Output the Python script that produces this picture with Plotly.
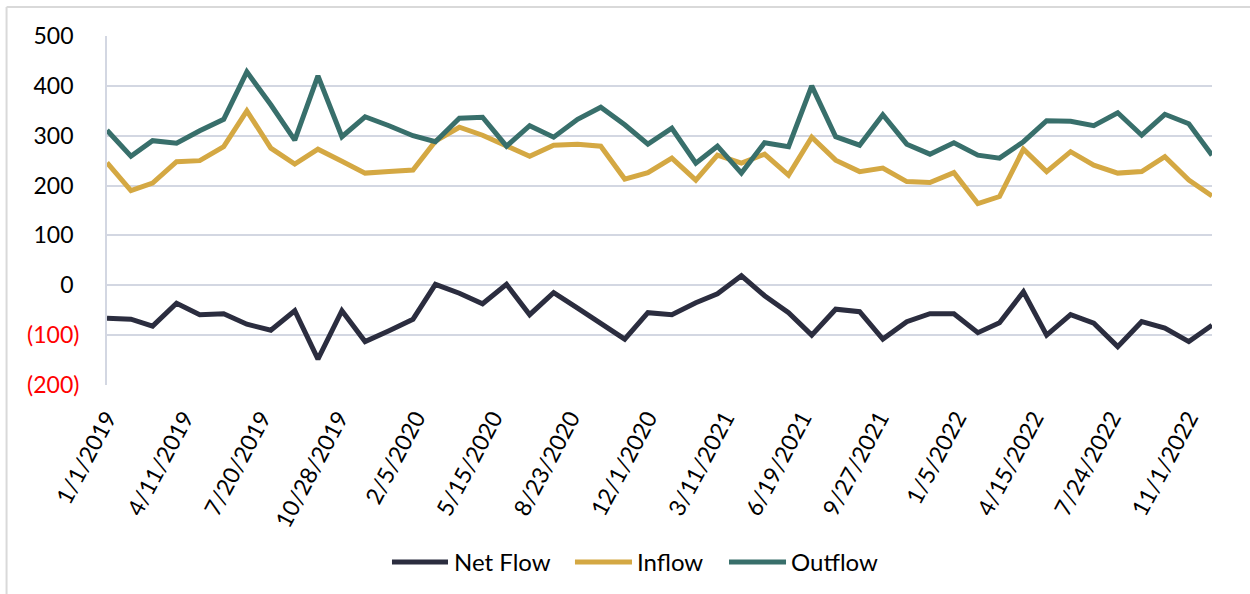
import pandas as pd
import plotly.graph_objects as go

months = pd.date_range("2019-01-01", periods=48, freq="MS")

net_flow = [-66, -68, -82, -36, -59, -57, -78, -90, -51, -148, -51, -113, -91, -68,
            2, -16, -37, 2, -59, -15, -46, -76, -108, -55, -59, -35, -17, 19, -21, -55, -100,
            -48, -53, -108, -73, -57, -57, -95, -75, -13, -100, -59, -76, -123, -73, -86, -113, -80]
inflow = [246, 190, 205, 248, 250, 278, 350, 275, 243, 273, 249, 225, 228, 231,
          289, 317, 301, 281, 259, 281, 283, 279, 213, 226, 255, 211, 261, 245, 263, 221, 297,
          251, 228, 235, 208, 206, 226, 164, 178, 273, 228, 268, 241, 225, 228, 258, 211, 179]
outflow = [311, 259, 290, 285, 310, 333, 428, 362, 291, 420, 298, 338, 320, 300,
           288, 335, 337, 279, 320, 297, 333, 357, 322, 283, 315, 245, 279, 225, 286, 278, 400,
           298, 281, 342, 283, 263, 286, 261, 255, 288, 330, 329, 320, 346, 301, 343, 324, 261]

y_ticks = [-200, -100, 0, 100, 200, 300, 400, 500]
y_labels = ["<span style='color:#FF0000'>(200)</span>", "<span style='color:#FF0000'>(100)</span>",
            "0\u00a0", "100\u00a0", "200\u00a0", "300\u00a0", "400\u00a0", "500\u00a0"]

series = [("Net Flow", net_flow, "#2B2D3F"),
          ("Inflow", inflow, "#D4A843"),
          ("Outflow", outflow, "#386F6B")]

# legend layout in paper coords: (line start, line end, text start)
legend_pos = [(0.2579, 0.3086, 0.3122), (0.4235, 0.4751, 0.4778), (0.5629, 0.6145, 0.6172)]
legend_y = -0.507

fig = go.Figure()
for (name, vals, col), (lx0, lx1, tx) in zip(series, legend_pos):
    fig.add_trace(go.Scatter(x=months, y=vals, name=name, mode="lines",
                             line=dict(color=col, width=5), showlegend=False))
    # hand-made legend entry
    fig.add_shape(type="line", xref="paper", yref="paper", x0=lx0, x1=lx1, y0=legend_y, y1=legend_y,
                  line=dict(color=col, width=5))
    fig.add_annotation(text=name, xref="paper", yref="paper", x=tx, y=legend_y,
                       xanchor="left", yanchor="middle", showarrow=False,
                       font=dict(size=24, color="black"))

fig.update_layout(
    width=1250, height=594,
    margin=dict(l=107, r=38, t=36, b=209),
    paper_bgcolor="white", plot_bgcolor="white",
    font=dict(family="Lato", size=23, color="black"),
)
fig.update_xaxes(
    range=["2019-01-01", "2022-12-01"],
    tick0="2019-01-01", dtick=86400000 * 100, tickformat="%-m/%-d/%Y",
    tickangle=-62, showgrid=False, zeroline=False, showline=False,
    ticks="", ticklabelstandoff=14,
)
fig.update_yaxes(
    range=[-200, 500], tickvals=y_ticks, ticktext=y_labels,
    showgrid=True, gridcolor="#D3D7E2", gridwidth=2,
    zeroline=False, showline=True, linecolor="#D3D7E2", linewidth=2,
    ticks="", ticklabelstandoff=21,
)

# outer chart border (top and left edges visible)
fig.add_shape(type="line", xref="paper", yref="paper", x0=-0.0909, x1=1.04, y0=1.0831, y1=1.0831,
              line=dict(color="#D9D9D9", width=2))
fig.add_shape(type="line", xref="paper", yref="paper", x0=-0.0909, x1=-0.0909, y0=1.0831, y1=-0.62,
              line=dict(color="#D9D9D9", width=2))

fig.write_html("out.html", config={"displayModeBar": False},
               post_script="document.body.style.margin='0';")
